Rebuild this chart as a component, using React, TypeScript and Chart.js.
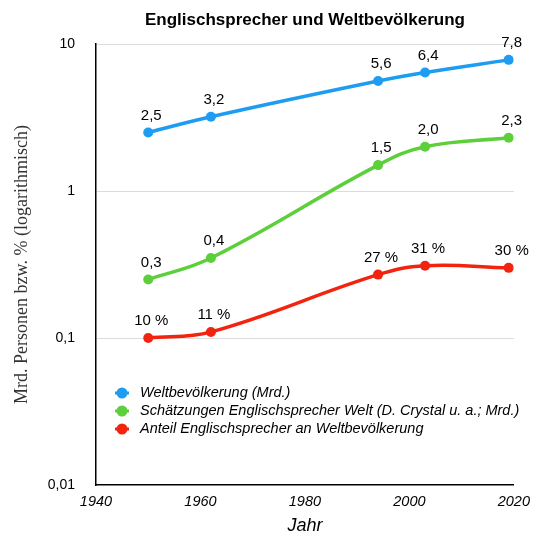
import React, { useEffect, useRef } from "react";
import { Chart, registerables } from "chart.js";

Chart.register(...registerables);

const titleText = "Englischsprecher und Weltbevölkerung";
const yAxisTitle = "Mrd. Personen bzw. % (logarithmisch)";
const xAxisTitle = "Jahr";

const years = [1950, 1962, 1994, 2003, 2019];
const worldPop = [2.5, 3.2, 5.6, 6.4, 7.8];
const worldPopLabels = ["2,5", "3,2", "5,6", "6,4", "7,8"];
const englishSpeakers = [0.25, 0.35, 1.5, 2.0, 2.3];
const englishSpeakersLabels = ["0,3", "0,4", "1,5", "2,0", "2,3"];
const englishShare = [0.1, 0.11, 0.27, 0.31, 0.3];
const englishShareLabels = ["10 %", "11 %", "27 %", "31 %", "30 %"];

const seriesNames = [
  "Weltbevölkerung (Mrd.)",
  "Schätzungen Englischsprecher Welt (D. Crystal u. a.; Mrd.)",
  "Anteil Englischsprecher an Weltbevölkerung",
];
const seriesColors = ["#1e9cf2", "#5ccf3a", "#f2240f"];

const yTicks = [0.01, 0.1, 1, 10];
const yTickLabels = ["0,01", "0,1", "1", "10"];
const xTicks = [1940, 1960, 1980, 2000, 2020];

const SANS = "'Liberation Sans', Arial, Helvetica, sans-serif";

export default function App() {
  const canvasRef = useRef<HTMLCanvasElement | null>(null);

  useEffect(() => {
    document.body.style.margin = "0";
    const canvas = canvasRef.current;
    if (!canvas) return;

    const allLabels = [worldPopLabels, englishSpeakersLabels, englishShareLabels];

    const mk = (vals: number[], i: number) => ({
      label: seriesNames[i],
      data: years.map((x, k) => ({ x, y: vals[k] })),
      borderColor: seriesColors[i],
      backgroundColor: seriesColors[i],
      borderWidth: 3.5,
      pointRadius: 5,
      pointHoverRadius: 5,
      pointBorderWidth: 0,
      tension: 0.4,
    });

    const customPlugin = {
      id: "custom",
      afterDatasetsDraw(chart: any) {
        const ctx = chart.ctx;
        ctx.save();
        ctx.fillStyle = "#000";
        ctx.font = `15px ${SANS}`;
        ctx.textAlign = "center";
        ctx.textBaseline = "middle";
        chart.data.datasets.forEach((ds: any, i: number) => {
          const meta = chart.getDatasetMeta(i);
          meta.data.forEach((pt: any, k: number) => {
            ctx.fillText(allLabels[i][k], pt.x + 3, pt.y - 17);
          });
        });
        ctx.restore();
      },
      afterDraw(chart: any) {
        const ctx = chart.ctx;
        const ca = chart.chartArea;
        ctx.save();
        ctx.fillStyle = "#000";
        ctx.font = `bold 17px ${SANS}`;
        ctx.textAlign = "center";
        ctx.textBaseline = "middle";
        ctx.fillText(titleText, (ca.left + ca.right) / 2, 20);
        ctx.font = `italic 14.5px ${SANS}`;
        ctx.textAlign = "left";
        seriesNames.forEach((name, i) => {
          const y = 393 + i * 18;
          const cx = 122;
          ctx.strokeStyle = seriesColors[i];
          ctx.lineWidth = 3;
          ctx.beginPath();
          ctx.moveTo(cx - 7, y);
          ctx.lineTo(cx + 7, y);
          ctx.stroke();
          ctx.fillStyle = seriesColors[i];
          ctx.beginPath();
          ctx.arc(cx, y, 5.5, 0, Math.PI * 2);
          ctx.fill();
          ctx.fillStyle = "#000";
          ctx.fillText(name, 140, y);
        });
        ctx.restore();
      },
    };

    const chart = new Chart(canvas, {
      type: "line",
      data: {
        datasets: [
          mk(worldPop, 0),
          mk(englishSpeakers, 1),
          mk(englishShare, 2),
        ],
      },
      options: {
        animation: false,
        responsive: false,
        maintainAspectRatio: false,
        layout: { padding: { top: 44, right: 24, left: 0, bottom: 0 } },
        plugins: {
          legend: { display: false },
          title: { display: false },
          tooltip: { enabled: false },
        },
        scales: {
          x: {
            type: "linear",
            min: 1940,
            max: 2020,
            afterBuildTicks: (scale: any) => {
              scale.ticks = xTicks.map((v) => ({ value: v }));
            },
            afterFit: (scale: any) => {
              scale.height = 52;
            },
            grid: { display: false, drawTicks: false },
            border: { display: true, color: "#000", width: 1.5 },
            ticks: {
              color: "#000",
              padding: 8,
              maxRotation: 0,
              font: { family: SANS, size: 14.5, style: "italic" },
              callback: (v: any) => String(v),
            },
            title: {
              display: true,
              text: xAxisTitle,
              color: "#000",
              font: { family: SANS, size: 18, style: "italic" },
              padding: { top: 0, bottom: 0 },
            },
          },
          y: {
            type: "logarithmic",
            min: 0.01,
            max: 10,
            afterBuildTicks: (scale: any) => {
              scale.ticks = yTicks.map((v) => ({ value: v }));
            },
            afterFit: (scale: any) => {
              scale.width = 96;
            },
            grid: {
              display: true,
              drawTicks: false,
              color: (c: any) => (c.tick && c.tick.value === 0.01 ? "rgba(0,0,0,0)" : "#dcdcdc"),
              lineWidth: 1,
            },
            border: { display: true, color: "#000", width: 1.5 },
            ticks: {
              color: "#000",
              padding: 21,
              font: { family: SANS, size: 14 },
              callback: (v: any) => {
                const i = yTicks.indexOf(Number(v));
                return i >= 0 ? yTickLabels[i] : "";
              },
            },
            title: {
              display: true,
              text: yAxisTitle,
              color: "#333",
              font: { family: "'Liberation Serif', 'DejaVu Serif', serif", size: 18 },
              padding: { top: 11, bottom: 0 },
            },
          },
        },
      },
      plugins: [customPlugin],
    } as any);

    return () => chart.destroy();
  }, []);

  return (
    <div style={{ width: 538, height: 537 }}>
      <canvas ref={canvasRef} width={538} height={537} style={{ display: "block" }} />
    </div>
  );
}
